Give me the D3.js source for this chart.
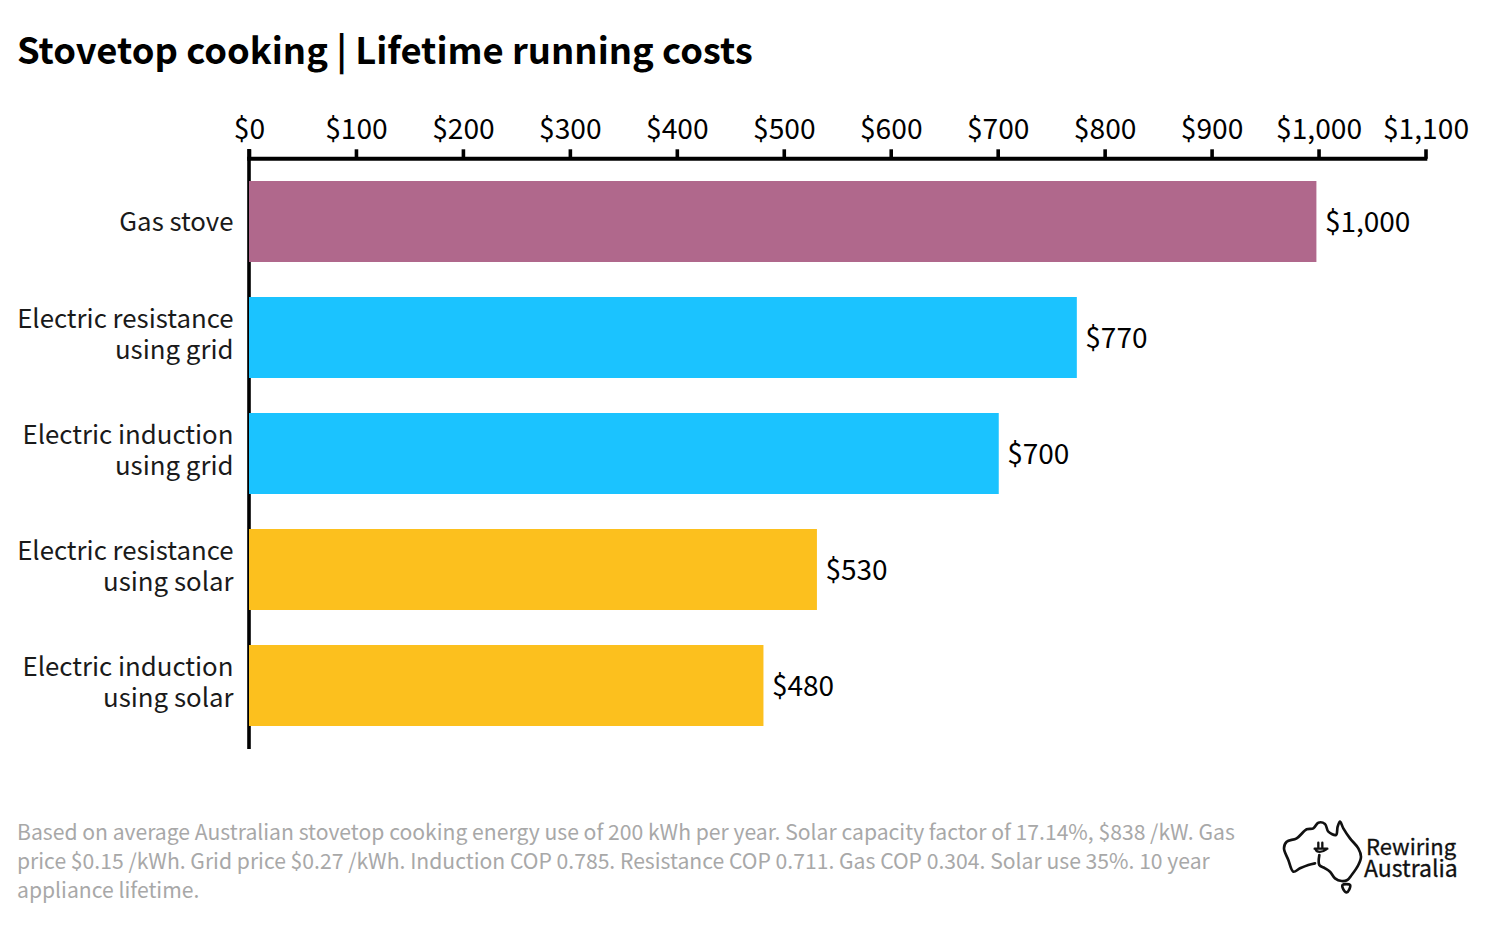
<!DOCTYPE html>
<html>
<head>
<meta charset="UTF-8">
<style>
  html, body { margin: 0; padding: 0; background: #fff; }
  svg { display: block; }
  text { font-family: "Noto Sans CJK SC", "Noto Sans", sans-serif; }
</style>
</head>
<body>
<svg id="chart"></svg>
<script src="https://d3js.org/d3.v7.min.js"></script>
<script>
const categories = [
  ["Gas stove"],
  ["Electric resistance", "using grid"],
  ["Electric induction", "using grid"],
  ["Electric resistance", "using solar"],
  ["Electric induction", "using solar"]
];
const costs = [998, 774, 701, 531, 481];
const barColors = ["#b0688c", "#1bc3ff", "#1bc3ff", "#fcc01e", "#fcc01e"];
const tickValues = [0, 100, 200, 300, 400, 500, 600, 700, 800, 900, 1000, 1100];
const titleText = "Stovetop cooking | Lifetime running costs";
const noteLines = [
  "Based on average Australian stovetop cooking energy use of 200 kWh per year. Solar capacity factor of 17.14%, $838 /kW. Gas",
  "price $0.15 /kWh. Grid price $0.27 /kWh. Induction COP 0.785. Resistance COP 0.711. Gas COP 0.304. Solar use 35%. 10 year",
  "appliance lifetime."
];

const width = 1486, height = 928;
const svg = d3.select("#chart").attr("width", width).attr("height", height);

const x = d3.scaleLinear().domain([0, 1100]).range([249, 1425.5]);
const y = d3.scaleBand().domain(d3.range(costs.length)).range([181, 726]).paddingInner(35 / 116);
const money = d3.format("$,");

svg.append("text").attr("x", 17).attr("y", 64)
  .attr("font-size", 36.4).attr("font-weight", 700).attr("fill", "#000")
  .text(titleText);

// left axis line, the bars sit on top of it
svg.append("line").attr("x1", x(0)).attr("x2", x(0)).attr("y1", 149).attr("y2", 749)
  .attr("stroke", "#000").attr("stroke-width", 3.6);

// bars
svg.append("g").selectAll("rect").data(costs).enter().append("rect")
  .attr("x", x(0))
  .attr("y", (d, i) => y(i))
  .attr("width", d => x(d) - x(0))
  .attr("height", y.bandwidth())
  .attr("fill", (d, i) => barColors[i]);

// value labels
svg.append("g").selectAll("text").data(costs).enter().append("text")
  .attr("x", d => x(d) + 8.5)
  .attr("y", (d, i) => y(i) + y.bandwidth() / 2 + 10.5)
  .attr("font-size", 28).attr("fill", "#000")
  .text(d => money(Math.round(d / 10) * 10));

// top axis
const axis = d3.axisTop(x).tickValues(tickValues).tickFormat(money).tickSize(9.5).tickSizeOuter(0);
const gx = svg.append("g").attr("transform", "translate(0,158.8)").call(axis);
gx.select(".domain").attr("stroke", "#000").attr("stroke-width", 4).attr("d", "M247.2,0H1427.3");
gx.selectAll(".tick line").attr("stroke", "#000").attr("stroke-width", 3.6);
gx.selectAll(".tick text").attr("font-size", 28.2).attr("fill", "#000").attr("y", -20)
  .attr("font-family", '"Noto Sans CJK SC", sans-serif');

// category labels
const catG = svg.append("g").selectAll("text").data(categories).enter().append("text")
  .attr("text-anchor", "end").attr("font-size", 25.8).attr("fill", "#1a1a1a")
  .attr("y", (d, i) => y(i) + y.bandwidth() / 2 + (d.length === 1 ? 9.5 : -10));
catG.selectAll("tspan").data(d => d).enter().append("tspan")
  .attr("x", 233.5).attr("dy", (d, i) => i ? 31.7 : 0).text(d => d);

// footnote
svg.append("g").selectAll("text").data(noteLines).enter().append("text")
  .attr("x", 17).attr("y", (d, i) => 840 + i * 29)
  .attr("font-size", 21.15).attr("fill", "#a8a8a8")
  .text(d => d);

// logo, traced at 3x so the scale below brings it back down
const logoOutline = [[178,165],[178,195],[195,205],[210,215],[225,235],[245,243],[262,240],[275,225],[295,195],[303,170],[295,145],[270,115],[250,85],[240,65],[233,80],[228,105],[205,95],[195,72],[175,68],[160,85],[140,88],[110,115],[80,125],[72,145],[85,180],[100,215],[120,205],[145,195],[165,190]];
const logoTas = [[248,255],[270,255],[268,268],[260,277],[250,268]];
const logo = svg.append("g").attr("transform", "translate(1260,800) scale(0.3333)")
  .attr("fill", "none").attr("stroke", "#111").attr("stroke-width", 8)
  .attr("stroke-linejoin", "round").attr("stroke-linecap", "round");
logo.append("path").attr("d", d3.line().curve(d3.curveCatmullRom)(logoOutline));
logo.append("path").attr("d", d3.line().curve(d3.curveCatmullRomClosed)(logoTas));
logo.append("path").attr("stroke-width", 7).attr("d", "M164,146 H202 M167,148 C170,158 186,158 199,148 M175,128 V142 M187,128 V142");
svg.append("text").attr("x", 1366).attr("y", 855).attr("font-family", "Inter, sans-serif")
  .attr("font-size", 22).attr("fill", "#111").attr("stroke", "#111").attr("stroke-width", 0.3).text("Rewiring");
svg.append("text").attr("x", 1364).attr("y", 877).attr("font-family", "Inter, sans-serif")
  .attr("font-size", 23).attr("fill", "#111").attr("stroke", "#111").attr("stroke-width", 0.3).text("Australia");
</script>
</body>
</html>
